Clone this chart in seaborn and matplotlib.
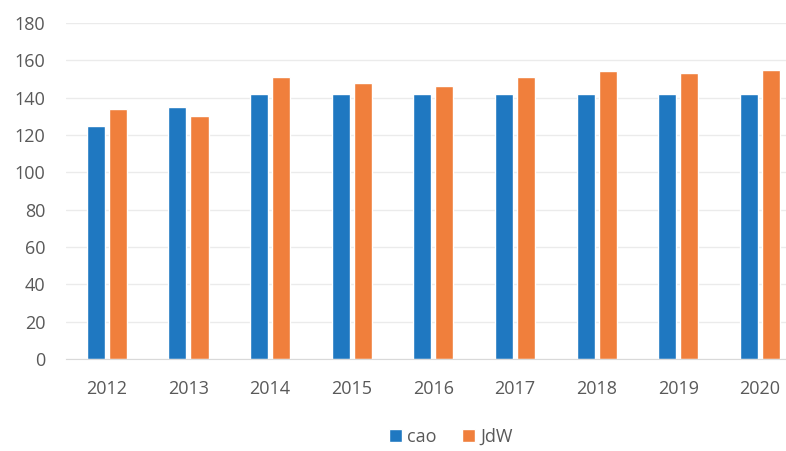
#!/usr/bin/env python3
"""Grouped bar chart: cao vs JdW per year."""

import matplotlib
matplotlib.use("Agg")
import matplotlib.pyplot as plt
import pandas as pd
import seaborn as sns

years = ["2012", "2013", "2014", "2015", "2016", "2017", "2018", "2019", "2020"]
cao = [125, 135, 142, 142, 142, 142, 142, 142, 142]
jdw = [134, 130, 151, 148, 146, 151, 154.5, 153, 155]
series_names = ["cao", "JdW"]
colors = ["#1f78c1", "#f07f3c"]
y_ticks = [0, 20, 40, 60, 80, 100, 120, 140, 160, 180]


def main() -> None:
    df = pd.DataFrame({
        "year": years * 2,
        "value": cao + jdw,
        "series": [series_names[0]] * len(years) + [series_names[1]] * len(years),
    })

    sns.set_style("white")
    plt.rcParams["font.family"] = ["Open Sans", "DejaVu Sans"]

    fig = plt.figure(figsize=(7.86, 4.51), dpi=100)
    ax = fig.add_axes([66 / 786, 92 / 451, 720 / 786, 336 / 451])
    sns.barplot(
        data=df, x="year", y="value", hue="series", palette=colors,
        width=0.54, gap=0.18, saturation=1, ax=ax, legend=True,
    )
    ax.set_xlim(-0.5, 8.32)
    ax.set_ylim(0, 180)
    ax.set_yticks(y_ticks)
    ax.set_xlabel("")
    ax.set_ylabel("")
    ax.grid(axis="y", color="#ebebeb", linewidth=1)
    ax.set_axisbelow(True)
    for side in ["top", "right", "left"]:
        ax.spines[side].set_visible(False)
    ax.spines["bottom"].set_color("#d9d9d9")
    ax.tick_params(axis="both", length=0, labelsize=13, colors="#595959")
    ax.tick_params(axis="x", pad=15)
    ax.tick_params(axis="y", pad=15)

    handles, labels = ax.get_legend_handles_labels()
    ax.get_legend().remove()
    fig.legend(
        handles, labels, loc="center", bbox_to_anchor=(451 / 786, 14 / 451),
        ncol=2, frameon=False, fontsize=13, handlelength=0.7, handleheight=0.7,
        handletextpad=0.3, columnspacing=1.4, labelcolor="#595959",
    )
    fig.savefig("out.png", dpi=100)
    plt.close(fig)


if __name__ == "__main__":
    main()
